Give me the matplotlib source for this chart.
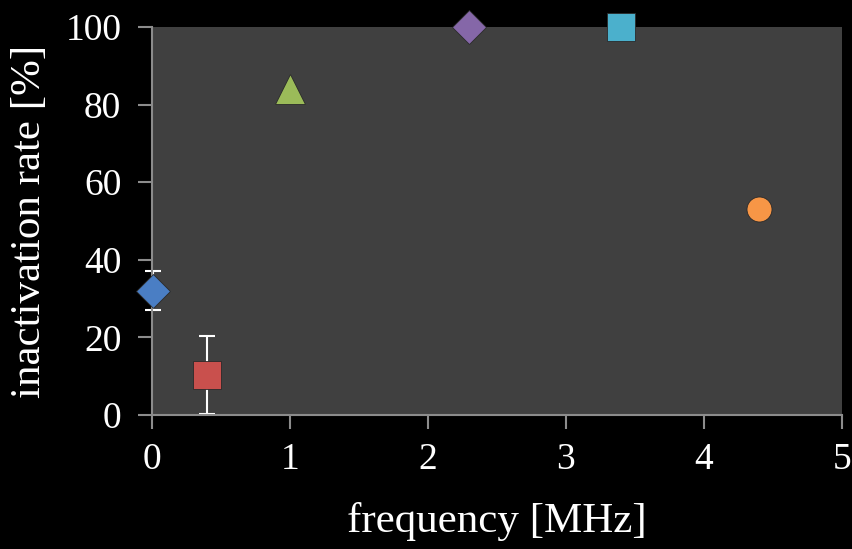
import matplotlib.pyplot as plt

# frequency [MHz] vs. inactivation rate [%]
freq = [0.01, 0.4, 1.0, 2.3, 3.4, 4.4]
rate = [32, 10.3, 84, 100, 100, 53]
err = [5, 10, 0, 0, 0, 0]
markers = ['D', 's', '^', 'D', 's', 'o']
colors = ['#4a7ec4', '#c9504d', '#9bbb59', '#8567a8', '#4bb0cc', '#f79646']
sizes = [17, 20, 21, 17, 20, 18]

plt.rcParams['font.family'] = 'Liberation Serif'

fig = plt.figure(figsize=(8.53, 5.49), dpi=100, facecolor='black')
ax = fig.add_axes([0.178, 0.244, 0.809, 0.707])
ax.set_facecolor('#404040')

for x, y, e, m, c, s in zip(freq, rate, err, markers, colors, sizes):
    if e:
        ax.errorbar(x, y, yerr=e, fmt='none', ecolor='white', elinewidth=1.5,
                    capsize=6, capthick=1.5, zorder=2, clip_on=False)
    ax.plot(x, y, marker=m, color=c, markersize=s, markeredgecolor='#2a2a2a',
            markeredgewidth=0.6, linestyle='none', zorder=3, clip_on=False)

ax.set_xlim(0, 5)
ax.set_ylim(0, 100)
ax.set_xticks(range(6))
ax.set_yticks(range(0, 101, 20))

for side in ['top', 'right']:
    ax.spines[side].set_visible(False)
for side in ['left', 'bottom']:
    ax.spines[side].set_color('#8c8c8c')
    ax.spines[side].set_linewidth(1.5)

ax.tick_params(colors='#8c8c8c', labelcolor='white', labelsize=27,
               length=10, width=1.5, direction='out')
ax.tick_params(axis='x', pad=10)
ax.tick_params(axis='y', pad=12)

ax.set_xlabel('frequency [MHz]', color='white', fontsize=31, labelpad=18)
ax.set_ylabel('inactivation rate [%]', color='white', fontsize=31, labelpad=12)

fig.savefig('out.png', dpi=100, facecolor='black')
